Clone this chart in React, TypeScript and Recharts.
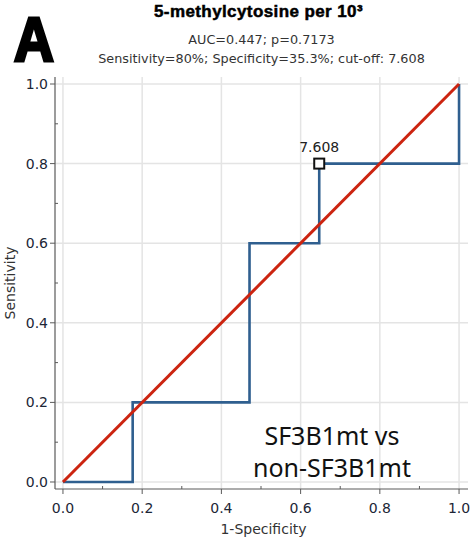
import React from 'react';
import { ComposedChart, Line, XAxis, YAxis, ReferenceLine, ReferenceDot } from 'recharts';

// ROC curve (1-Specificity, Sensitivity)
const rocFpr = [0, 0.176, 0.471, 0.647, 1.0];
const rocTpr = [0, 0.2, 0.6, 0.8, 1.0];
// reference (chance) diagonal
const diagFpr = [0, 1];
const diagTpr = [0, 1];
// optimal cut-off point
const cutoffFpr = 0.647;
const cutoffTpr = 0.8;
const cutoffLabel = '7.608';
// ticks
const majorTicks = [0, 0.2, 0.4, 0.6, 0.8, 1.0];
const allTicks = [0, 0.1, 0.2, 0.3, 0.4, 0.5, 0.6, 0.7, 0.8, 0.9, 1.0];

const titleText = '5-methylcytosine per 10³';
const subtitle1 = 'AUC=0.447; p=0.7173';
const subtitle2 = 'Sensitivity=80%; Specificity=35.3%; cut-off: 7.608';
const xTitle = '1-Specificity';
const yTitle = 'Sensitivity';
const noteLines = ['SF3B1mt vs', 'non-SF3B1mt'];
const panelLetter = 'A';

const rocData = rocFpr.map((x, i) => ({ x, y: rocTpr[i] }));
const diagData = diagFpr.map((x, i) => ({ x, y: diagTpr[i] }));

const FRAME = '#5a5a5a';
const GRID = '#e4e4e4';
const TICKTXT = '#1c2636';
const FONT = '"DejaVu Sans", Verdana, sans-serif';

const isMajor = (v: number) => majorTicks.some((m) => Math.abs(m - v) < 1e-6);

const LeftTick = (props: any) => {
  const { x, y, payload } = props;
  const major = isMajor(payload.value);
  return (
    <g>
      {major ? (
        <line x1={x - 5} x2={x} y1={y} y2={y} stroke={FRAME} strokeWidth={1} />
      ) : (
        <line x1={x} x2={x + 3} y1={y} y2={y} stroke={FRAME} strokeWidth={1} />
      )}
      {major && (
        <text x={x - 7} y={y} dy={5} textAnchor="end" fontSize={14} fontFamily={FONT} fill={TICKTXT}>
          {payload.value.toFixed(1)}
        </text>
      )}
    </g>
  );
};

const BottomTick = (props: any) => {
  const { x, y, payload } = props;
  const major = isMajor(payload.value);
  return (
    <g>
      {major ? (
        <line x1={x} x2={x} y1={y} y2={y + 5} stroke={FRAME} strokeWidth={1} />
      ) : (
        <line x1={x} x2={x} y1={y} y2={y - 3} stroke={FRAME} strokeWidth={1} />
      )}
      {major && (
        <text x={x} y={y + 24} textAnchor="middle" fontSize={14} fontFamily={FONT} fill={TICKTXT}>
          {payload.value.toFixed(1)}
        </text>
      )}
    </g>
  );
};

const TopTick = (props: any) => {
  const { x, y, payload } = props;
  const major = isMajor(payload.value);
  return <line x1={x} x2={x} y1={y} y2={y + (major ? 4 : 2)} stroke={FRAME} strokeWidth={1} />;
};

const RightTick = (props: any) => {
  const { x, y, payload } = props;
  const major = isMajor(payload.value);
  return <line x1={x} x2={x - (major ? 4 : 2)} y1={y} y2={y} stroke={FRAME} strokeWidth={1} />;
};

const CutoffShape = (props: any) => {
  const { cx, cy } = props;
  return <rect x={cx - 5} y={cy - 5} width={10} height={10} fill="#ffffff" stroke="#111111" strokeWidth={2} />;
};

const X_DOMAIN: [number, number] = [-0.0201, 1.0226];
const Y_DOMAIN: [number, number] = [-0.0176, 1.0176];

export default function App() {
  return (
    <div style={{ position: 'absolute', left: 0, top: 0, width: 473, height: 543, background: '#fff', overflow: 'hidden' }}>
      <ComposedChart
        width={473}
        height={543}
        margin={{ top: 77, right: 5, bottom: 0, left: 0 }}
      >
        <XAxis
          xAxisId="bottom"
          dataKey="x"
          type="number"
          domain={X_DOMAIN}
          allowDataOverflow
          ticks={allTicks}
          interval={0}
          height={54}
          tickSize={0}
          tickMargin={0}
          tickLine={false}
          axisLine={{ stroke: FRAME, strokeWidth: 1.2 }}
          tick={<BottomTick />}
        />
        <XAxis
          xAxisId="top"
          orientation="top"
          dataKey="x"
          type="number"
          domain={X_DOMAIN}
          allowDataOverflow
          ticks={allTicks}
          interval={0}
          height={0}
          tickSize={0}
          tickMargin={0}
          tickLine={false}
          axisLine={{ stroke: '#8a8a8a', strokeWidth: 1.2 }}
          tick={<TopTick />}
        />
        <YAxis
          yAxisId="left"
          type="number"
          domain={Y_DOMAIN}
          allowDataOverflow
          ticks={allTicks}
          interval={0}
          width={55}
          tickSize={0}
          tickMargin={0}
          tickLine={false}
          axisLine={{ stroke: FRAME, strokeWidth: 1.2 }}
          tick={<LeftTick />}
        />
        <YAxis
          yAxisId="right"
          orientation="right"
          type="number"
          domain={Y_DOMAIN}
          allowDataOverflow
          ticks={allTicks}
          interval={0}
          width={0}
          tickSize={0}
          tickMargin={0}
          tickLine={false}
          axisLine={{ stroke: '#8a8a8a', strokeWidth: 1.2 }}
          tick={<RightTick />}
        />
        {majorTicks.map((v) => (
          <ReferenceLine key={'gx' + v} xAxisId="bottom" yAxisId="left" x={v} stroke={GRID} strokeWidth={1.5} />
        ))}
        {majorTicks.map((v) => (
          <ReferenceLine key={'gy' + v} xAxisId="bottom" yAxisId="left" y={v} stroke={GRID} strokeWidth={1.5} />
        ))}
        <Line
          xAxisId="bottom"
          yAxisId="left"
          data={rocData}
          dataKey="y"
          type="stepAfter"
          stroke="#2f5f8f"
          strokeWidth={2.6}
          dot={false}
          activeDot={false}
          isAnimationActive={false}
        />
        <Line
          xAxisId="bottom"
          yAxisId="left"
          data={diagData}
          dataKey="y"
          type="linear"
          stroke="#cc2410"
          strokeWidth={3}
          dot={false}
          activeDot={false}
          isAnimationActive={false}
        />
        <ReferenceDot
          xAxisId="bottom"
          yAxisId="left"
          x={cutoffFpr}
          y={cutoffTpr}
          r={5}
          shape={<CutoffShape />}
          label={{ value: cutoffLabel, position: 'top', offset: 7, fill: '#222', fontSize: 14, fontFamily: FONT }}
        />
      </ComposedChart>

      {/* Panel letter */}
      <div
        style={{
          position: 'absolute', left: 14, top: 8, fontFamily: '"Liberation Sans", Arial, sans-serif',
          fontWeight: 700, fontSize: 60, lineHeight: '60px', height: 60, color: '#000',
          WebkitTextStroke: '3px #000',
          transform: 'scale(0.92, 1.06)', transformOrigin: 'left top',
        }}
      >
        {panelLetter}
      </div>

      {/* Title */}
      <div
        style={{
          position: 'absolute', left: 0, top: 0, width: 517, height: 24,
          textAlign: 'center', fontFamily: '"Liberation Sans", Arial, sans-serif', fontWeight: 700,
          fontSize: 17, letterSpacing: 0.4, lineHeight: '18px', color: '#000', paddingTop: 3,
          WebkitTextStroke: '0.5px #000',
          boxSizing: 'border-box',
        }}
      >
        {titleText}
      </div>

      <div
        style={{
          position: 'absolute', left: 0, width: 523, top: 30, textAlign: 'center',
          fontFamily: FONT, fontSize: 12.8, lineHeight: '19px', color: '#333',
        }}
      >
        <div>{subtitle1}</div>
        <div>{subtitle2}</div>
      </div>

      {/* Axis titles */}
      <div
        style={{
          position: 'absolute', left: 0, width: 527, top: 520, textAlign: 'center',
          fontFamily: FONT, fontSize: 14, lineHeight: '18px', color: '#333',
        }}
      >
        {xTitle}
      </div>
      <div
        style={{
          position: 'absolute', left: 10, top: 283, width: 120, marginLeft: -60, marginTop: -9,
          textAlign: 'center', transform: 'rotate(-90deg)', fontFamily: FONT, fontSize: 14,
          lineHeight: '18px', color: '#333',
        }}
      >
        {yTitle}
      </div>

      {/* Annotation */}
      <div
        style={{
          position: 'absolute', left: 217, width: 230, top: 419, textAlign: 'center',
          fontFamily: '"Noto Sans", sans-serif', fontSize: 25, lineHeight: '32px', color: '#111',
        }}
      >
        {noteLines.map((t) => (
          <div key={t}>{t}</div>
        ))}
      </div>
    </div>
  );
}
